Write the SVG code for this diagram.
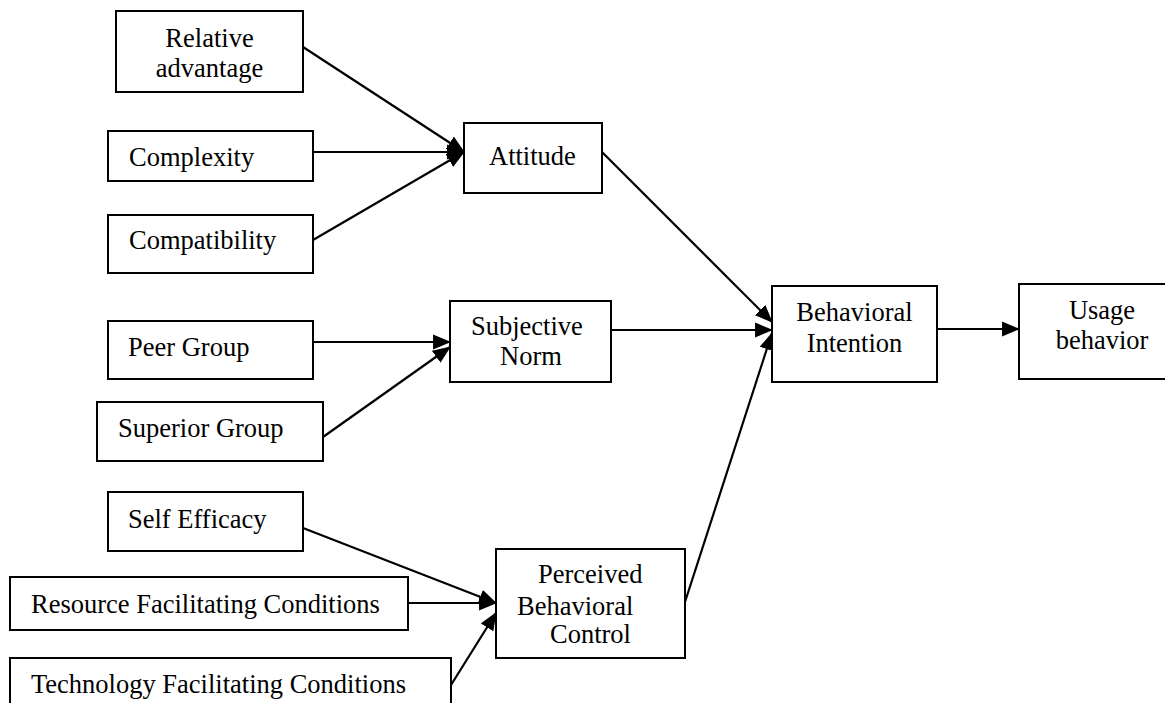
<svg xmlns="http://www.w3.org/2000/svg" width="1165" height="703" viewBox="0 0 1165 703">
<style>
.box{fill:#fff;stroke:#000;stroke-width:2}
text{font-family:'Liberation Serif','Times New Roman',serif;font-size:26.5px;fill:#000}
.m{text-anchor:middle}
.c{stroke:#000;stroke-width:2.2;fill:none;marker-end:url(#ah)}
</style>
<defs>
<marker id="ah" markerUnits="userSpaceOnUse" markerWidth="18" markerHeight="16" viewBox="0 0 17 14" refX="16" refY="7" orient="auto">
<path d="M0,0 L17,7 L0,14 z" fill="#000"/>
</marker>
</defs>
<rect width="1165" height="703" fill="#fff"/>
<g id="connectors">
<line class="c" x1="303" y1="47" x2="464" y2="152"/>
<line class="c" x1="313" y1="152" x2="464" y2="152"/>
<line class="c" x1="313" y1="240" x2="464" y2="152"/>
<line class="c" x1="602" y1="152" x2="772" y2="322"/>
<line class="c" x1="611" y1="330" x2="772" y2="330"/>
<line class="c" x1="685" y1="602" x2="772" y2="333"/>
<line class="c" x1="937" y1="329" x2="1019" y2="329"/>
<line class="c" x1="313" y1="342" x2="450" y2="342"/>
<line class="c" x1="323" y1="437" x2="450" y2="347"/>
<line class="c" x1="303" y1="528" x2="496" y2="603"/>
<line class="c" x1="408" y1="603" x2="496" y2="603"/>
<line class="c" x1="451" y1="685" x2="496" y2="613"/>
</g>
<g id="relative-advantage">
<rect class="box" x="116" y="11" width="187" height="81"/>
<text class="m" x="209.5" y="47">Relative</text>
<text class="m" x="209.5" y="77">advantage</text>
</g>
<g id="complexity">
<rect class="box" x="108" y="131" width="205" height="50"/>
<text x="129" y="166">Complexity</text>
</g>
<g id="compatibility">
<rect class="box" x="108" y="215" width="205" height="58"/>
<text x="129" y="249">Compatibility</text>
</g>
<g id="attitude">
<rect class="box" x="464" y="123" width="138" height="70"/>
<text x="489" y="165">Attitude</text>
</g>
<g id="peer-group">
<rect class="box" x="108" y="321" width="205" height="58"/>
<text x="128" y="356">Peer Group</text>
</g>
<g id="superior-group">
<rect class="box" x="97" y="402" width="226" height="59"/>
<text x="118" y="437">Superior Group</text>
</g>
<g id="subjective-norm">
<rect class="box" x="450" y="301" width="161" height="81"/>
<text x="471" y="335">Subjective</text>
<text x="500" y="365">Norm</text>
</g>
<g id="self-efficacy">
<rect class="box" x="108" y="492" width="195" height="59"/>
<text x="128" y="528">Self Efficacy</text>
</g>
<g id="resource-facilitating-conditions">
<rect class="box" x="10" y="577" width="398" height="53"/>
<text x="31" y="613">Resource Facilitating Conditions</text>
</g>
<g id="technology-facilitating-conditions">
<rect class="box" x="10" y="658" width="441" height="60"/>
<text x="31" y="693">Technology Facilitating Conditions</text>
</g>
<g id="perceived-behavioral-control">
<rect class="box" x="496" y="549" width="189" height="109"/>
<text x="538" y="583">Perceived</text>
<text x="517" y="615">Behavioral</text>
<text x="550" y="643">Control</text>
</g>
<g id="behavioral-intention">
<rect class="box" x="772" y="286" width="165" height="96"/>
<text class="m" x="854.5" y="321">Behavioral</text>
<text class="m" x="854.5" y="352">Intention</text>
</g>
<g id="usage-behavior">
<rect class="box" x="1019" y="284" width="160" height="95"/>
<text class="m" x="1102" y="319">Usage</text>
<text class="m" x="1102" y="349">behavior</text>
</g>
</svg>
